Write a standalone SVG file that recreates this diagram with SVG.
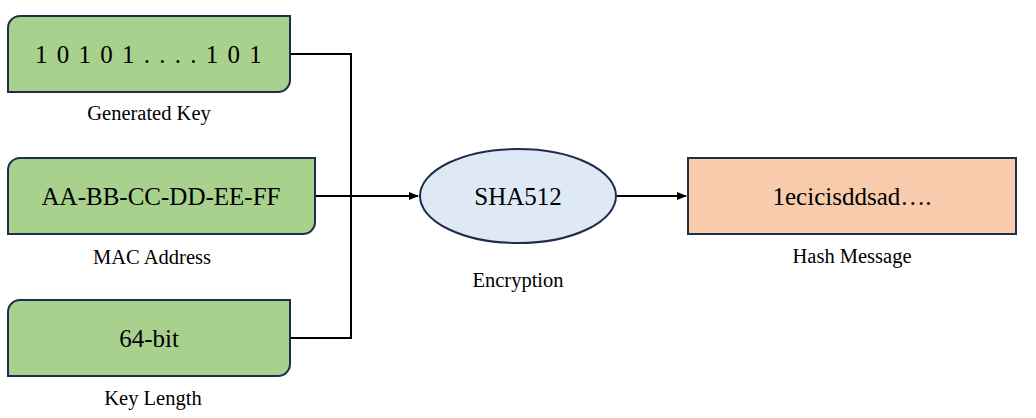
<svg xmlns="http://www.w3.org/2000/svg" width="1036" height="418" viewBox="0 0 1036 418">
<defs><marker id="ah" markerWidth="10" markerHeight="8" refX="9" refY="4" orient="auto" markerUnits="userSpaceOnUse"><path d="M0,0 L10,4 L0,8 Z" fill="#000"/></marker></defs>
<style>
.g{fill:#a9d18e;stroke:#1f2d4d;stroke-width:2}
text{font-family:"Liberation Serif","Times New Roman","DejaVu Serif",serif;fill:#000;text-anchor:middle}
.b{font-size:25px}.s{font-size:20.5px}
.c{fill:none;stroke:#000;stroke-width:2}
</style>
<rect width="1036" height="418" fill="#fff"/>
<g id="connectors">
<polyline class="c" points="290,54 351,54 351,338 290,338"/>
<line class="c" x1="315" y1="196" x2="418" y2="196" marker-end="url(#ah)"/>
<line class="c" x1="617" y1="196" x2="686" y2="196" marker-end="url(#ah)"/>
</g>
<g id="key"><path class="g" d="M20,16 H290 V80 A12,12 0 0 1 278,92 H8 V28 A12,12 0 0 1 20,16 Z"/><text class="b" x="149" y="63" font-family="Liberation Serif, serif" letter-spacing="1.5">1 0 1 0 1 . . . . 1 0 1</text><text class="s" x="149" y="120" font-family="Liberation Serif, serif">Generated Key</text></g>
<g id="mac"><path class="g" d="M20,158 H315 V222 A12,12 0 0 1 303,234 H8 V170 A12,12 0 0 1 20,158 Z"/><text class="b" x="161" y="205" font-family="Liberation Serif, serif">AA-BB-CC-DD-EE-FF</text><text class="s" x="152" y="264" font-family="Liberation Serif, serif">MAC Address</text></g>
<g id="len"><path class="g" d="M20,300 H290 V364 A12,12 0 0 1 278,376 H8 V312 A12,12 0 0 1 20,300 Z"/><text class="b" x="149" y="347" font-family="Liberation Serif, serif">64-bit</text><text class="s" x="153" y="405" font-family="Liberation Serif, serif">Key Length</text></g>
<g id="sha"><ellipse cx="518" cy="196" rx="98" ry="47" fill="#dee9f5" stroke="#1f2d4d" stroke-width="2"/><text class="b" x="518" y="205" font-family="Liberation Serif, serif">SHA512</text><text class="s" x="518" y="287" font-family="Liberation Serif, serif">Encryption</text></g>
<g id="hash"><rect x="688" y="158" width="328" height="76" fill="#f8cbad" stroke="#1f2d4d" stroke-width="2"/><text class="b" x="852" y="205" font-family="Liberation Serif, serif">1ecicisddsad….</text><text class="s" x="852" y="263" font-family="Liberation Serif, serif">Hash Message</text></g>
</svg>
